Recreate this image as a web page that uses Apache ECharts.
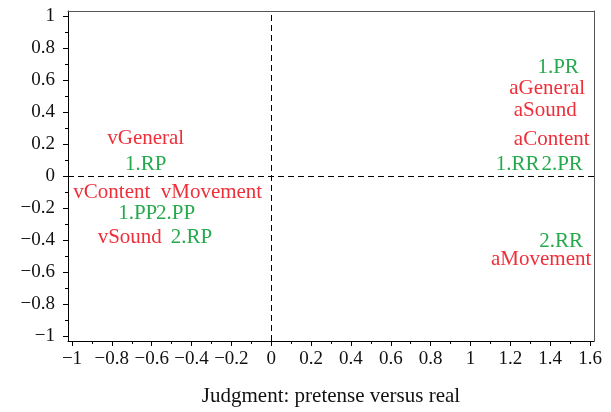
<!DOCTYPE html>
<html><head><meta charset="utf-8">
<script src="https://cdn.jsdelivr.net/npm/echarts@6/dist/echarts.min.js"></script>
<style>html,body{margin:0;padding:0;background:#fff}#c{width:611px;height:412px}</style>
</head><body><div id="c"></div>
<script>
// Red series: modality/aspect labels
const redNames = ['vGeneral','vContent','vMovement','vSound','aGeneral','aSound','aContent','aMovement'];
const redX = [-0.63,-0.80,-0.30,-0.71,1.385,1.375,1.408,1.355];
const redY = [0.232,-0.10,-0.10,-0.386,0.548,0.407,0.228,-0.52];
// Green series: condition labels
const greenNames = ['1.RP','1.PP','2.PP','2.RP','1.PR','1.RR','2.PR','2.RR'];
const greenX = [-0.63,-0.67,-0.48,-0.40,1.44,1.237,1.46,1.455];
const greenY = [0.07,-0.237,-0.237,-0.386,0.677,0.075,0.075,-0.41];
// Tick labels
const xTicks = [-1,-0.8,-0.6,-0.4,-0.2,0,0.2,0.4,0.6,0.8,1,1.2,1.4,1.6];
const yTicks = [-1,-0.8,-0.6,-0.4,-0.2,0,0.2,0.4,0.6,0.8,1];
const xMinor = xTicks.slice(0,-1).map((v,i)=>+( (v+xTicks[i+1])/2 ).toFixed(2));
const yMinor = yTicks.slice(0,-1).map((v,i)=>+( (v+yTicks[i+1])/2 ).toFixed(2));
const xTitle = 'Judgment: pretense versus real';

const FONT = '"Liberation Serif", "DejaVu Serif", serif';
const RED = '#ee2f3a', GREEN = '#26a94c';
const XMIN = -1.02, XMAX = 1.62, YMIN = -1.03, YMAX = 1.03;
const fmt = v => String(v).replace('-', '\u2212');

function pts(names, xs, ys){ return names.map((n,i)=>({name:n, value:[xs[i], ys[i]]})); }

const chart = echarts.init(document.getElementById('c'), null, {renderer:'canvas'});
const labelStyle = (color)=>({show:true, position:'inside', formatter:'{b}', color, opacity:1, fontFamily:FONT, fontSize:21});
chart.setOption({
  animation:false,
  grid:{left:68, right:17, top:11, bottom:70},
  xAxis:[
    {type:'value', min:XMIN, max:XMAX, position:'bottom',
     axisLine:{show:true, onZero:false, lineStyle:{color:'#000', width:1}},
     axisTick:{show:true, customValues:xTicks, length:5, lineStyle:{color:'#000'}},
     axisLabel:{show:true, customValues:xTicks, formatter:fmt, color:'#111', fontFamily:FONT, fontSize:19, margin:9},
     splitLine:{show:false},
     name:xTitle, nameLocation:'middle', nameGap:45,
     nameTextStyle:{color:'#111', fontFamily:FONT, fontSize:21}},
    {type:'value', min:XMIN, max:XMAX, position:'bottom',
     axisLine:{show:false, onZero:false}, axisLabel:{show:false}, splitLine:{show:false},
     axisTick:{show:true, customValues:xMinor, length:3, lineStyle:{color:'#000'}}},
    {type:'value', min:XMIN, max:XMAX, position:'top',
     axisLine:{show:true, onZero:false, lineStyle:{color:'#555', width:1}}, axisTick:{show:false}, axisLabel:{show:false}, splitLine:{show:false}}
  ],
  yAxis:[
    {type:'value', min:YMIN, max:YMAX, position:'left',
     axisLine:{show:true, onZero:false, lineStyle:{color:'#000', width:1}},
     axisTick:{show:true, customValues:yTicks, length:5, lineStyle:{color:'#000'}},
     axisLabel:{show:true, customValues:yTicks, formatter:fmt, color:'#111', fontFamily:FONT, fontSize:19, margin:13},
     splitLine:{show:false}},
    {type:'value', min:YMIN, max:YMAX, position:'left',
     axisLine:{show:false, onZero:false}, axisLabel:{show:false}, splitLine:{show:false},
     axisTick:{show:true, customValues:yMinor, length:3, lineStyle:{color:'#000'}}},
    {type:'value', min:YMIN, max:YMAX, position:'right',
     axisLine:{show:true, onZero:false, lineStyle:{color:'#555', width:1}}, axisTick:{show:false}, axisLabel:{show:false}, splitLine:{show:false}}
  ],
  series:[
    {type:'scatter', xAxisIndex:0, yAxisIndex:0, symbolSize:0, data:pts(redNames, redX, redY),
     label:labelStyle(RED), itemStyle:{color:RED, opacity:1},
     markLine:{silent:true, symbol:'none', label:{show:false},
       lineStyle:{color:'#000', type:[6,4], width:1, opacity:1},
       data:[{xAxis:0},{yAxis:0}]}},
    {type:'scatter', xAxisIndex:0, yAxisIndex:0, symbolSize:0, data:pts(greenNames, greenX, greenY),
     label:labelStyle(GREEN), itemStyle:{color:GREEN, opacity:1}}
  ]
});
</script></body></html>
